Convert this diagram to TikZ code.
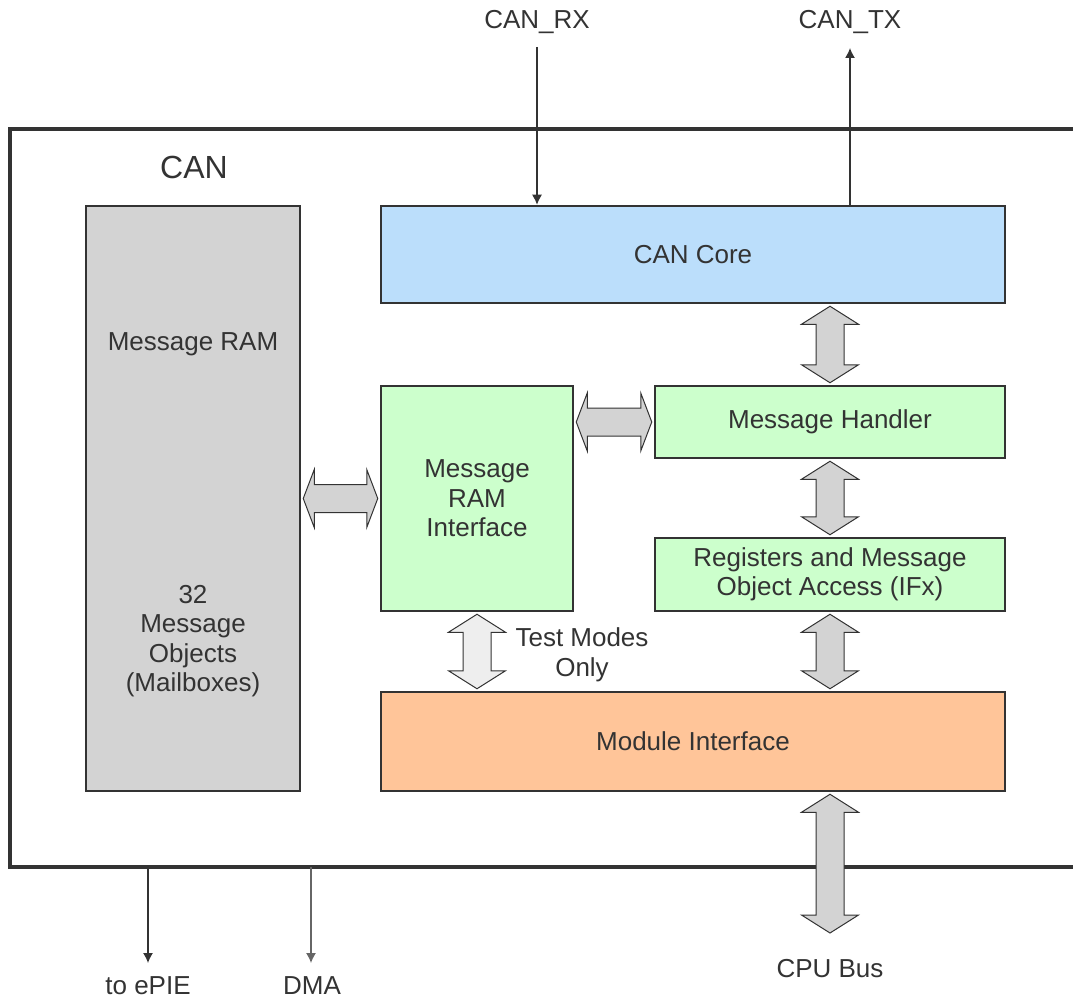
\documentclass[tikz,border=0pt]{standalone}
\usepackage{fontspec}
\setmainfont{Liberation Sans}
\usetikzlibrary{arrows.meta,calc}

\definecolor{ink}{HTML}{333333}
\definecolor{ramgray}{HTML}{D3D3D3}
\definecolor{coreblue}{HTML}{BBDEFB}
\definecolor{ifgreen}{HTML}{CCFFCC}
\definecolor{modpeach}{HTML}{FFC599}
\definecolor{busgray}{HTML}{D3D3D3}
\definecolor{testgray}{HTML}{EEEEEE}

% vertical block arrow between two anchors
\newcommand{\vbus}[3][busgray]{%
  \draw[bus,fill=#1] let \p1=(#2), \p2=(#3) in
    (\x1,\y1-2pt) -- ++(28.5pt,-18pt) -- ++(-14.5pt,0pt) -- (\x1+14pt,\y2+20pt)
    -- ++(14.5pt,0pt) -- (\x1,\y2+2pt) -- ++(-28.5pt,18pt) -- ++(14.5pt,0pt)
    -- (\x1-14pt,\y1-20pt) -- ++(-14.5pt,0pt) -- cycle;}
% horizontal block arrow between two anchors
\newcommand{\hbus}[2]{%
  \draw[bus,fill=busgray] let \p1=(#1), \p2=(#2) in
    (\x1+2pt,\y1) -- ++(11pt,29pt) -- ++(0pt,-15pt) -- (\x2-13pt,\y1+14pt)
    -- ++(0pt,15pt) -- (\x2-2pt,\y1) -- ++(-11pt,-29pt) -- ++(0pt,15pt)
    -- (\x1+13pt,\y1-14pt) -- ++(0pt,-15pt) -- cycle;}

\begin{document}
\begin{tikzpicture}[
	x=1pt,y=-1pt,
	font=\fontsize{26}{29.5}\selectfont,
	text=ink,
	box/.style={rectangle,draw=ink,line width=2.5pt,inner sep=0pt,align=center},
	frame/.style={draw=ink,line width=3.5pt},
	bus/.style={draw=ink,line width=1pt,line join=miter},
	sig/.style={draw=ink,line width=1.3pt,-{Latex[length=10pt,width=10pt]}},
	lbl/.style={inner sep=0pt,align=center},
	]
	\useasboundingbox (0,0) rectangle (1073,1000);
	
	% Module frame (open to the right)
	\coordinate (ftr) at (1073,129);
	\coordinate (fbr) at (1073,867);
	\draw[frame] (ftr) -- (10,129) -- (10,867) -- (fbr);
	\node[lbl,font=\fontsize{32}{36}\selectfont] (can) at (194,167) {CAN};
	
	% Blocks
	\node[box,fill=ramgray,minimum width=214pt,minimum height=585pt] (msgram) at (193,498.5) {};
	\node[lbl] (ramtitle) at (193,344) {Message RAM};
	\node[lbl] (mbox) at (193,641) {32\\Message\\Objects\\(Mailboxes)};
	
	\node[box,fill=coreblue,minimum width=624pt,minimum height=97pt] (core) at (693,254.5) {CAN Core};
	\node[box,fill=ifgreen,minimum width=192pt,minimum height=225pt] (ramif) at (477,498.5)
	{Message\\RAM\\Interface};
	\node[box,fill=ifgreen,minimum width=350pt,minimum height=72pt] (handler) at (830,422) {Message Handler};
	\node[box,fill=ifgreen,minimum width=350pt,minimum height=73pt] (regs) at (830,574.5)
	{Registers and Message\\Object Access (IFx)};
	\node[box,fill=modpeach,minimum width=624pt,minimum height=99pt] (modint) at (693,741.5) {Module Interface};
	
	% Pins and outside signals
	\node[lbl] (canrx) at (537,22) {CAN\_RX};
	\node[lbl] (cantx) at (850,22) {CAN\_TX};
	\coordinate (rxin) at (537,47);
	\coordinate (txout) at (850,48);
	\draw[sig] (rxin) -- (core.north -| rxin);
	\draw[sig] (core.north -| txout) -- (txout);
	
	\node[lbl] (epie) at (148,986) {to ePIE};
	\node[lbl] (dma) at (312,986) {DMA};
	\coordinate (epiein) at (148,963);
	\coordinate (dmain) at (311,963);
	\draw[sig] (fbr -| epiein) -- (epiein);
	\draw[sig,draw=ink!75] (fbr -| dmain) -- (dmain);
	
	\node[lbl] (cpubus) at (830,969) {CPU Bus};
	\coordinate (busend) at (830,935);
	
	% Block arrows
	\vbus{core.south -| handler}{handler.north}
	\vbus{handler.south}{regs.north}
	\vbus{regs.south}{modint.north -| regs}
	\vbus[testgray]{ramif.south}{modint.north -| ramif}
	\vbus{modint.south -| handler}{busend}
	\hbus{msgram.east |- ramif}{ramif.west}
	\hbus{ramif.east |- handler}{handler.west}
	
	\node[lbl] (testonly) at (582,655) {Test Modes\\Only};
	
\end{tikzpicture}
\end{document}
